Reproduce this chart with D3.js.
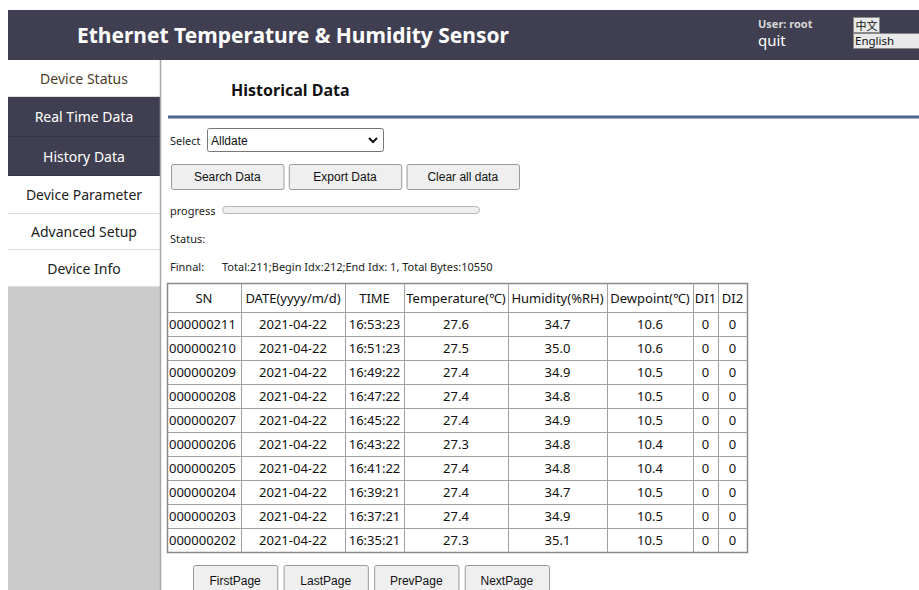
<!DOCTYPE html>
<html>
<head>
<meta charset="utf-8">
<script src="https://cdn.jsdelivr.net/npm/d3@7"></script>
<style>
  body { margin: 0; background: #fff; }
  svg { display: block; }
</style>
</head>
<body>
<div id="container"></div>
<script>
/* CONSTANTS AND GLOBALS */
const width = 919, height = 590;
const dark = "#3f3f51";

// DATA
const menuItems = ["Device Status", "Real Time Data", "History Data", "Device Parameter", "Advanced Setup", "Device Info"];
const menuActive = [false, true, true, false, false, false];
const columns = ["SN", "DATE(yyyy/m/d)", "TIME", "Temperature(℃)", "Humidity(%RH)", "Dewpoint(℃)", "DI1", "DI2"];
const sn = ["000000211", "000000210", "000000209", "000000208", "000000207", "000000206", "000000205", "000000204", "000000203", "000000202"];
const dates = ["2021-04-22", "2021-04-22", "2021-04-22", "2021-04-22", "2021-04-22", "2021-04-22", "2021-04-22", "2021-04-22", "2021-04-22", "2021-04-22"];
const times = ["16:53:23", "16:51:23", "16:49:22", "16:47:22", "16:45:22", "16:43:22", "16:41:22", "16:39:21", "16:37:21", "16:35:21"];
const temperature = [27.6, 27.5, 27.4, 27.4, 27.4, 27.3, 27.4, 27.4, 27.4, 27.3];
const humidity = [34.7, 35.0, 34.9, 34.8, 34.9, 34.8, 34.8, 34.7, 34.9, 35.1];
const dewpoint = [10.6, 10.6, 10.5, 10.5, 10.5, 10.4, 10.4, 10.5, 10.5, 10.5];
const di1 = [0, 0, 0, 0, 0, 0, 0, 0, 0, 0];
const di2 = [0, 0, 0, 0, 0, 0, 0, 0, 0, 0];
const topButtons = ["Search Data", "Export Data", "Clear all data"];
const pageButtons = ["FirstPage", "LastPage", "PrevPage", "NextPage"];
const finalInfo = "Total:211;Begin Idx:212;End Idx: 1, Total Bytes:10550";

// layout (not data)
const menuEdges = [60, 97, 137, 176, 214, 250, 287];
const colEdges = [167, 241, 345, 404, 508, 607, 693, 718, 747];
const uiFont = "'Noto Sans', 'Open Sans', sans-serif";
const btnFont = "'Liberation Sans', Arial, sans-serif";

const rows = sn.map((d, i) => [d, dates[i], times[i], temperature[i].toFixed(1),
  humidity[i].toFixed(1), dewpoint[i].toFixed(1), di1[i], di2[i]]);

const svg = d3.select("#container")
  .append("svg")
  .attr("width", width)
  .attr("height", height);

// HEADER
svg.append("rect").attr("x", 8).attr("y", 10).attr("width", width - 8).attr("height", 50).attr("fill", dark);
svg.append("text").attr("x", 77).attr("y", 43)
  .attr("font-family", uiFont).attr("font-weight", "bold").attr("font-size", 21)
  .attr("fill", "#fff").attr("textLength", 432).attr("lengthAdjust", "spacingAndGlyphs")
  .text("Ethernet Temperature & Humidity Sensor");
svg.append("text").attr("x", 758).attr("y", 28)
  .attr("font-family", uiFont).attr("font-weight", "bold").attr("font-size", 11)
  .attr("fill", "#d8d8d8").text("User: root");
svg.append("text").attr("x", 758).attr("y", 46)
  .attr("font-family", uiFont).attr("font-size", 15)
  .attr("fill", "#fff").text("quit");

const lang = svg.append("g");
lang.append("rect").attr("x", 853.5).attr("y", 17.5).attr("width", 26).attr("height", 15)
  .attr("fill", "#e9e9e9").attr("stroke", "#888");
lang.append("text").attr("x", 855.5).attr("y", 29.5).attr("font-family", "'Noto Sans CJK SC', sans-serif")
  .attr("font-size", 11).attr("fill", "#111").text("中文");
lang.append("rect").attr("x", 853.5).attr("y", 33.5).attr("width", 70).attr("height", 15)
  .attr("fill", "#e9e9e9").attr("stroke", "#888");
lang.append("text").attr("x", 855).attr("y", 45).attr("font-family", uiFont)
  .attr("font-size", 11.5).attr("fill", "#111").text("English");

// SIDEBAR
svg.append("rect").attr("x", 8).attr("y", 60).attr("width", 152).attr("height", height - 60).attr("fill", "#cbcbcb");
const menuY = d3.scaleOrdinal().domain(menuItems).range(menuEdges.slice(0, -1));
const menuH = d => menuEdges[menuItems.indexOf(d) + 1] - menuY(d);
const menu = svg.selectAll("g.menu").data(menuItems).join("g").attr("class", "menu");
menu.append("rect")
  .attr("x", 8).attr("y", d => menuY(d)).attr("width", 152).attr("height", menuH)
  .attr("fill", (d, i) => menuActive[i] ? dark : "#fff");
menu.append("line")
  .attr("x1", 8).attr("x2", 160)
  .attr("y1", d => menuY(d) + menuH(d) - 0.5).attr("y2", d => menuY(d) + menuH(d) - 0.5)
  .attr("stroke", (d, i) => menuActive[i] ? "#35354a" : "#dcdcdc");
menu.append("text")
  .attr("x", 84).attr("y", d => menuY(d) + menuH(d) / 2 + 5)
  .attr("text-anchor", "middle").attr("font-family", uiFont).attr("font-size", 14)
  .attr("fill", (d, i) => menuActive[i] ? "#fff" : (i === 0 ? "#4a3c2c" : "#222"))
  .text(d => d);
svg.append("line").attr("x1", 160.5).attr("x2", 160.5).attr("y1", 60).attr("y2", height)
  .attr("stroke", "#a8a8a8").attr("stroke-width", 1.5);

// CONTENT
svg.append("text").attr("x", 231).attr("y", 96)
  .attr("font-family", uiFont).attr("font-weight", "bold").attr("font-size", 16)
  .attr("fill", "#111").text("Historical Data");
svg.append("rect").attr("x", 168).attr("y", 115.5).attr("width", width - 168).attr("height", 3).attr("fill", "#4d6390");

const small = (x, y, t) => svg.append("text").attr("x", x).attr("y", y)
  .attr("font-family", uiFont).attr("font-size", 11).attr("fill", "#222").text(t);

small(170, 145, "Select");
svg.append("rect").attr("x", 207.5).attr("y", 128.5).attr("width", 176).attr("height", 23).attr("rx", 2)
  .attr("fill", "#fff").attr("stroke", "#777");
svg.append("text").attr("x", 211).attr("y", 144.5).attr("font-family", btnFont).attr("font-size", 12)
  .attr("fill", "#111").text("Alldate");
svg.append("path").attr("d", "M369,138 L373,142 L377,138").attr("fill", "none")
  .attr("stroke", "#111").attr("stroke-width", 2);

const button = (x, y, w, h, t) => {
  const g = svg.append("g");
  g.append("rect").attr("x", x + 0.5).attr("y", y + 0.5).attr("width", w).attr("height", h).attr("rx", 2)
    .attr("fill", "#efefef").attr("stroke", "#9a9a9a");
  g.append("text").attr("x", x + w / 2).attr("y", y + h / 2 + 4.5).attr("text-anchor", "middle")
    .attr("font-family", btnFont).attr("font-size", 12).attr("fill", "#111").text(t);
};
const topBtnX = d3.scaleBand().domain(topButtons).range([171, 519]).paddingInner(0.045);
topButtons.forEach(b => button(topBtnX(b), 164, topBtnX.bandwidth(), 25, b));

small(170, 215, "progress");
svg.append("rect").attr("x", 222.5).attr("y", 206.5).attr("width", 257).attr("height", 7).attr("rx", 3.5)
  .attr("fill", "#efefef").attr("stroke", "#b8b8b8");
small(170, 243, "Status:");
small(170, 271, "Finnal:");
small(222, 271, finalInfo);

// TABLE
const rowY = d3.scaleBand().domain(sn).range([312, 552]);
const table = svg.append("g").attr("font-family", uiFont).attr("font-size", 13).attr("fill", "#111");
table.append("rect").attr("x", 167.5).attr("y", 283.5).attr("width", colEdges[8] - 167).attr("height", 552 - 283)
  .attr("fill", "#fff").attr("stroke", "#888").attr("stroke-width", 1.5);
// header
table.selectAll("text.head").data(columns).join("text").attr("class", "head")
  .attr("x", (d, i) => (colEdges[i] + colEdges[i + 1]) / 2).attr("y", 303)
  .attr("text-anchor", "middle").text(d => d)
  .each(function (d, i) {
    const w = colEdges[i + 1] - colEdges[i] - 2;
    if (this.getComputedTextLength() > w) d3.select(this).attr("textLength", w).attr("lengthAdjust", "spacingAndGlyphs");
  });
// horizontal lines
table.selectAll("line.h").data(sn).join("line").attr("class", "h")
  .attr("x1", 167).attr("x2", colEdges[8])
  .attr("y1", d => rowY(d) + 0.5).attr("y2", d => rowY(d) + 0.5)
  .attr("stroke", "#a0a0a0");
// vertical lines
table.selectAll("line.v").data(colEdges.slice(1, -1)).join("line").attr("class", "v")
  .attr("x1", d => d + 0.5).attr("x2", d => d + 0.5).attr("y1", 283).attr("y2", 552)
  .attr("stroke", "#a0a0a0");
// cells
const rowG = table.selectAll("g.row").data(rows).join("g").attr("class", "row");
rowG.selectAll("text").data(r => r.map((v, j) => ({ v, j, sn: r[0] }))).join("text")
  .attr("x", d => d.j === 0 ? colEdges[0] + 2 : (colEdges[d.j] + colEdges[d.j + 1]) / 2)
  .attr("y", d => rowY(d.sn) + rowY.bandwidth() / 2 + 5)
  .attr("text-anchor", d => d.j === 0 ? "start" : "middle")
  .text(d => d.v);

// PAGER
const pageX = d3.scaleBand().domain(pageButtons).range([193, 549]).paddingInner(0.07);
pageButtons.forEach(b => button(pageX(b), 565, pageX.bandwidth(), 30, b));
</script>
</body>
</html>
